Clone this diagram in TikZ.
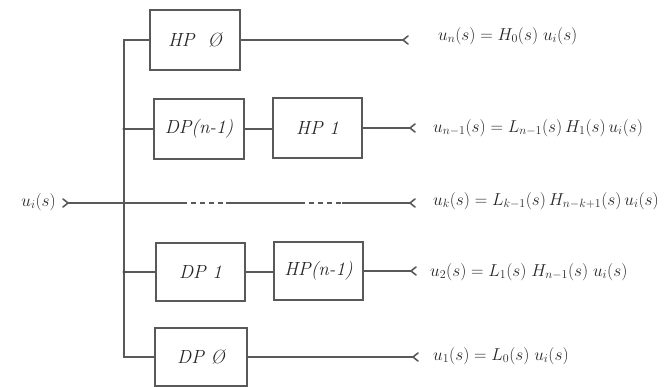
\documentclass[tikz,border=0pt]{standalone}
\usepackage{amsmath}
\begin{document}
\begin{tikzpicture}[x=1pt,y=-1pt,
  blk/.style={draw=black!65, line width=1.6pt, minimum width=90pt, minimum height=59pt, inner sep=0pt, font=\fontsize{19}{22}\selectfont\itshape, text=black!85},
  wire/.style={draw=black!65, line width=1.6pt},
  dwire/.style={wire, dash pattern=on 5pt off 4pt},
  eq/.style={anchor=west, inner sep=0pt, font=\fontsize{17}{20}\selectfont, text=black!85},
  jd/.style={circle, fill=black!70, inner sep=0pt, minimum size=3.2pt}]
\useasboundingbox (0,0) rectangle (671,387);

% blocks
\node[blk, minimum height=60pt] (hp0)  at (195,40)  {HP\ \ Ø};
\node[blk, minimum height=60pt] (dpn1) at (199,129) {DP(n-1)};
\node[blk, minimum width=89pt, minimum height=60pt] (hp1) at (317.5,128) {HP 1};
\node[blk, minimum width=89pt, minimum height=58pt] (dp1) at (200.5,272) {DP 1};
\node[blk, minimum width=89pt, minimum height=58pt] (hpn1) at (318.5,271) {HP(n-1)};
\node[blk, minimum width=92pt, minimum height=58pt] (dp0) at (201,357) {DP Ø};

% bus coordinates
\coordinate (bt) at (124,40);
\coordinate (bb) at (124,357);
\coordinate (j1) at (124,129);
\coordinate (j2) at (124,203);
\coordinate (j3) at (124,272);

% bus
\draw[wire] (hp0.west) -- (bt) -- (bb) -- (dp0.west);
\draw[wire] (j1) -- (dpn1.west);
\draw[wire] (j3) -- (dp1.west);
\node[jd] at (j1) {};
\node[jd] at (j2) {};
\node[jd] at (j3) {};

% series connections
\draw[wire] (dpn1.east) -- (dpn1.east -| hp1.west);
\draw[wire] (dp1.east) -- (dp1.east -| hpn1.west);

% outputs
\coordinate (o1) at (403,40);
\coordinate (o2) at (410,128);
\coordinate (o3) at (410,203);
\coordinate (o4) at (411,271);
\coordinate (o5) at (413,357);
\draw[wire] (hp0.east) -- (o1);
\draw[wire] (hp1.east) -- (o2);
\draw[wire] (hpn1.east) -- (o4);
\draw[wire] (dp0.east) -- (o5);
\foreach \o in {o1,o2,o3,o4,o5}{
  \draw[wire, line cap=round, line join=round] ([shift={(5,-4)}]\o) -- (\o) -- ([shift={(5,4)}]\o);
}

% input line
\coordinate (in) at (68,203);
\coordinate (m1) at (182,203);
\coordinate (m2) at (226,203);
\coordinate (m3) at (300,203);
\coordinate (m4) at (342,203);
\draw[wire, line cap=round, line join=round] ([shift={(-5,-4)}]in) -- (in) -- ([shift={(-5,4)}]in);
\draw[wire] (in) -- (j2) -- (m1);
\draw[dwire] (m1) -- (m2);
\draw[wire] (m2) -- (m3);
\draw[dwire] (m3) -- (m4);
\draw[wire] (m4) -- (o3);

% labels
\node[eq, anchor=east] (ui) at (56,202) {$u_i(s)$};
\node[eq] (e1) at (438,36) {$u_n(s) = H_0(s)\;u_i(s)$};
\node[eq] (e2) at (433,128) {$u_{n-1}(s) = L_{n-1}(s)\,H_1(s)\,u_i(s)$};
\node[eq] (e3) at (433,201) {$u_k(s) = L_{k-1}(s)\,H_{n-k+1}(s)\,u_i(s)$};
\node[eq] (e4) at (430,272) {$u_2(s) = L_1(s)\;H_{n-1}(s)\;u_i(s)$};
\node[eq] (e5) at (433,356) {$u_1(s) = L_0(s)\;u_i(s)$};
\end{tikzpicture}
\end{document}
